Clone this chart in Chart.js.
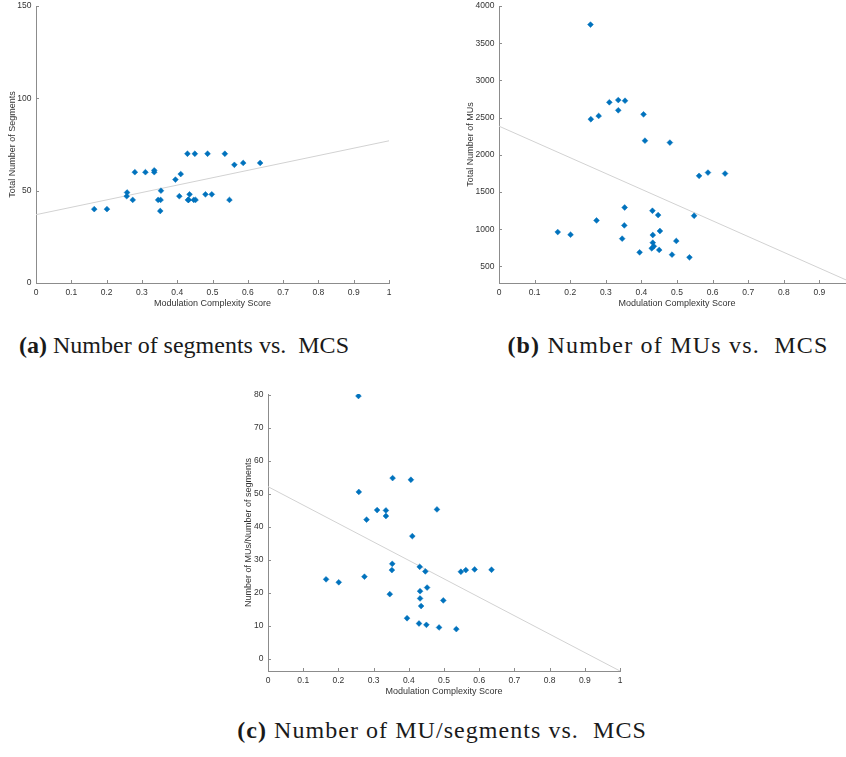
<!DOCTYPE html>
<html>
<head>
<meta charset="utf-8">
<script src="https://cdn.jsdelivr.net/npm/chart.js@4.4.1/dist/chart.umd.min.js"></script>
<style>
  html, body { margin: 0; padding: 0; background: #fff; }
  body { width: 846px; height: 757px; position: relative; overflow: hidden; }
  canvas { position: absolute; }
  .caption {
    position: absolute; width: 500px; text-align: center;
    font-family: "Liberation Serif", "Times New Roman", serif;
    font-size: 24px; line-height: 24px; color: #1a1a1a; white-space: pre;
  }
</style>
</head>
<body>
<canvas id="segChart" width="400" height="316" style="left:0;top:0"></canvas>
<canvas id="muChart" width="426" height="316" style="left:440px;top:0"></canvas>
<canvas id="ratioChart" width="401" height="316" style="left:230px;top:388px"></canvas>

<div class="caption" style="left:-66px;top:333px"><b>(a)</b> Number of segments vs.  MCS</div>
<div class="caption" style="left:418px;top:333px;letter-spacing:1.2px"><b>(b)</b> Number of MUs vs.  MCS</div>
<div class="caption" style="left:192px;top:718px;letter-spacing:1.05px"><b>(c)</b> Number of MU/segments vs.  MCS</div>

<script>
// one entry per treatment plan
const mcs = [0.165, 0.201, 0.257, 0.258, 0.274, 0.280, 0.310, 0.335, 0.335, 0.346, 0.352,
             0.353, 0.354, 0.395, 0.406, 0.410, 0.429, 0.431, 0.432, 0.432, 0.435, 0.447,
             0.450, 0.452, 0.480, 0.486, 0.498, 0.535, 0.548, 0.562, 0.587, 0.635];
const segments = [40, 40, 47, 49, 45, 60, 60, 61, 60, 45, 39,
                  45, 50, 56, 47, 59, 70, 45, 45, 45, 48, 45,
                  70, 45, 48, 70, 48, 70, 45, 64, 65, 65];
const mus = [962, 926, 3750, 2478, 1118, 2522, 2706, 2736, 2598, 873, 1051,
             1292, 2727, 689, 2544, 2190, 743, 1248, 922, 819, 770, 1190,
             721, 976, 2164, 658, 842, 622, 1181, 1717, 1761, 1748];
const musPerSegment = [24.1, 23.2, 79.7, 50.6, 24.9, 42.2, 45.1, 45.0, 43.3, 19.6, 26.9,
                       28.8, 54.8, 12.3, 54.3, 37.2, 10.7, 27.9, 20.5, 18.3, 16.0, 26.5,
                       10.3, 21.6, 45.3, 9.5, 17.7, 9.0, 26.4, 26.9, 27.1, 27.0];

// least-squares lines, value at MCS = 0 and MCS = 1
const fitX = [0, 1];
const segmentsFit = [37, 77];
const musFit = [2385, 265];
const ratioFit = [52.2, -3.7];

const mcsTicks = [0, 0.1, 0.2, 0.3, 0.4, 0.5, 0.6, 0.7, 0.8, 0.9, 1];
const segmentTicks = [0, 50, 100, 150];
const muTicks = [500, 1000, 1500, 2000, 2500, 3000, 3500, 4000];
const ratioTicks = [0, 10, 20, 30, 40, 50, 60, 70, 80];

const BLUE = '#0072bd';
const AXIS = '#8c8c8c';
const TEXT = '#333333';
const FONT = '"Liberation Sans", Arial, sans-serif';

const points = ys => mcs.map((x, i) => ({x: x, y: ys[i]}));
const fitLine = ys => fitX.map((x, i) => ({x: x, y: ys[i]}));

// short tick marks pointing into the plot area
const innerTicks = {
    id: 'innerTicks',
    afterDatasetsDraw(chart) {
        const {ctx, chartArea: a, scales: {x, y}} = chart;
        ctx.save();
        ctx.strokeStyle = AXIS;
        ctx.lineWidth = 1;
        ctx.beginPath();
        x.ticks.forEach(t => {
            const px = Math.round(x.getPixelForValue(t.value)) + 0.5;
            ctx.moveTo(px, a.bottom);
            ctx.lineTo(px, a.bottom - 3);
        });
        y.ticks.forEach(t => {
            const py = Math.round(y.getPixelForValue(t.value)) + 0.5;
            ctx.moveTo(a.left, py);
            ctx.lineTo(a.left + 3, py);
        });
        ctx.stroke();
        ctx.restore();
    }
};

function scatterPlot(id, ys, fit, yOpts) {
    new Chart(document.getElementById(id), {
        type: 'scatter',
        data: {
            datasets: [
                {
                    type: 'line',
                    data: fitLine(fit),
                    borderColor: '#d2d2d2',
                    borderWidth: 1,
                    pointRadius: 0,
                    fill: false,
                    order: 2
                },
                {
                    data: points(ys),
                    pointStyle: 'rectRot',
                    pointRadius: 2.9,
                    backgroundColor: BLUE,
                    borderColor: BLUE,
                    borderWidth: 0.5,
                    order: 1
                }
            ]
        },
        options: {
            responsive: false,
            animation: false,
            events: [],
            layout: { padding: { top: 6, right: 11, left: 0, bottom: 0 } },
            plugins: { legend: { display: false }, tooltip: { enabled: false } },
            scales: {
                x: {
                    type: 'linear',
                    min: 0,
                    max: 1,
                    grid: { display: false, drawTicks: false },
                    border: { color: AXIS, width: 1 },
                    afterBuildTicks: s => { s.ticks = mcsTicks.map(v => ({value: v})); },
                    afterFit: s => { s.height = 33; },
                    ticks: {
                        padding: 5, color: TEXT, maxRotation: 0, autoSkip: false,
                        font: { family: FONT, size: 8.5 },
                        callback: v => String(v)
                    },
                    title: {
                        display: true, text: 'Modulation Complexity Score', color: TEXT,
                        font: { family: FONT, size: 9 }, padding: { top: 0, bottom: 7 }
                    }
                },
                y: {
                    type: 'linear',
                    min: yOpts.min,
                    max: yOpts.max,
                    grid: { display: false, drawTicks: false },
                    border: { color: AXIS, width: 1 },
                    afterBuildTicks: s => { s.ticks = yOpts.ticks.map(v => ({value: v})); },
                    afterFit: s => {
                        s.width = yOpts.width;
                        // let the top label hang over the padding instead of shrinking the plot
                        s.paddingTop = 0;
                        s.paddingBottom = 0;
                    },
                    ticks: {
                        padding: 4.5, color: TEXT, autoSkip: false,
                        font: { family: FONT, size: 8.5 },
                        callback: v => String(v)
                    },
                    title: {
                        display: true, text: yOpts.title, color: TEXT,
                        font: { family: FONT, size: 9 }, padding: { top: yOpts.titlePad, bottom: 0 }
                    }
                }
            }
        },
        plugins: [innerTicks]
    });
}

scatterPlot('segChart', segments, segmentsFit, {
    min: 0, max: 150, ticks: segmentTicks, width: 36, titlePad: 7.3,
    title: 'Total Number of Segments'
});
scatterPlot('muChart', mus, musFit, {
    min: 277, max: 4000, ticks: muTicks, width: 59, titlePad: 25.3,
    title: 'Total Number of MUs'
});
scatterPlot('ratioChart', musPerSegment, ratioFit, {
    min: -3.7, max: 80.3, ticks: ratioTicks, width: 38, titlePad: 12.9,
    title: 'Number of MUs/Number of segments'
});
</script>
</body>
</html>
